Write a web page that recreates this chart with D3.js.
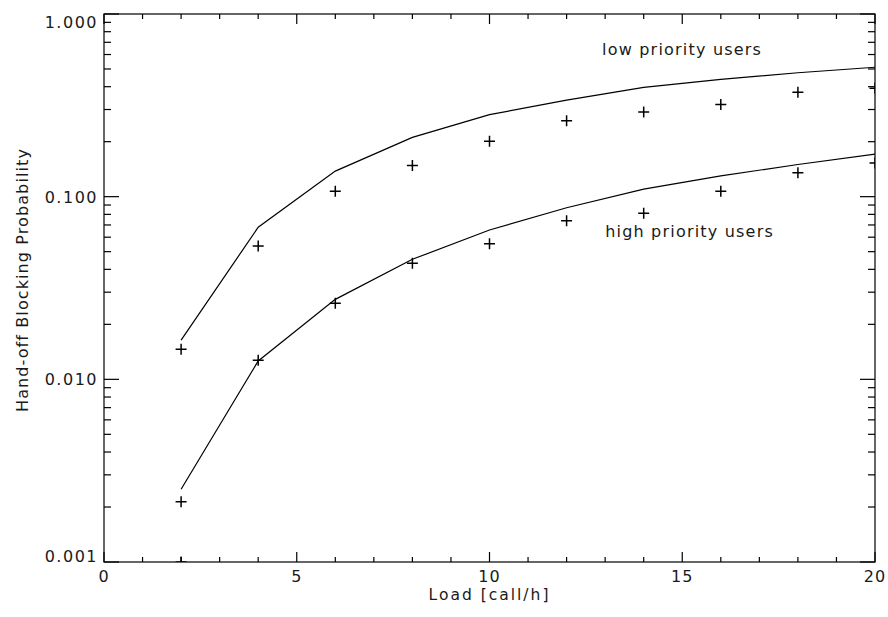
<!DOCTYPE html>
<html>
<head>
<meta charset="utf-8">
<script src="https://cdn.jsdelivr.net/npm/d3@7"></script>
<style>
  body { margin: 0; background: #fff; }
  svg text { font-family: "DejaVu Sans", sans-serif; fill: #1a1a1a; }
</style>
</head>
<body>
<div id="chart"></div>
<script>
// Hand-off blocking probability vs load
const loads = [2, 4, 6, 8, 10, 12, 14, 16, 18, 20];
const lowAnalytic  = [0.0164, 0.0680, 0.138, 0.211, 0.281, 0.338, 0.397, 0.439, 0.477, 0.511];
const lowSimulated = [0.0146, 0.0537, 0.107, 0.148, 0.201, 0.260, 0.291, 0.320, 0.373, 0.392];
const highAnalytic  = [0.00250, 0.0126, 0.0274, 0.0454, 0.0657, 0.0870, 0.110, 0.130, 0.150, 0.171];
const highSimulated = [0.00214, 0.0127, 0.0261, 0.0432, 0.0553, 0.0739, 0.0811, 0.107, 0.135, 0.153];
// a simulated point sitting on the lower limit of the axis
const floorPoints = [{ load: 2, p: 0.001 }];

const xTicks = [0, 5, 10, 15, 20];
const yTicks = [0.001, 0.01, 0.1, 1];
const yTickLabels = ["0.001", "0.010", "0.100", "1.000"];

const curveLabels = [
  { text: "low priority users", load: 12.92, p: 0.60 },
  { text: "high priority users", load: 13.0, p: 0.060 }
];

const margin = { top: 14, right: 13, bottom: 55, left: 104 };
const W = 888, H = 617;
const width = W - margin.left - margin.right;
const height = H - margin.top - margin.bottom;

const svg = d3.select("#chart").append("svg")
  .attr("width", W)
  .attr("height", H);

const g = svg.append("g")
  .attr("transform", `translate(${margin.left},${margin.top})`);

const x = d3.scaleLinear().domain([0, 20]).range([0, width]);
const y = d3.scaleLog().domain([0.001, 1]).range([height, 0]);

// clip region for the data
svg.append("defs").append("clipPath").attr("id", "plotClip")
  .append("rect").attr("width", width).attr("height", height);

// frame
g.append("rect")
  .attr("width", width)
  .attr("height", height)
  .attr("fill", "none")
  .attr("stroke", "#000")
  .attr("stroke-width", 1.2);

// x ticks on bottom and top, pointing inward
const xMinor = d3.range(0, 21, 1);
const xMajLen = 10, xMinLen = 5;
xMinor.forEach(v => {
  const len = v % 5 === 0 ? xMajLen : xMinLen;
  g.append("line").attr("x1", x(v)).attr("x2", x(v))
    .attr("y1", height).attr("y2", height - len)
    .attr("stroke", "#000").attr("stroke-width", 1.2);
  g.append("line").attr("x1", x(v)).attr("x2", x(v))
    .attr("y1", 0).attr("y2", len)
    .attr("stroke", "#000").attr("stroke-width", 1.2);
});

// y ticks on left and right (log minor ticks)
const yMajLen = 15, yMinLen = 7;
const yAll = [];
[0.001, 0.01, 0.1].forEach(dec => {
  for (let k = 1; k <= 9; k++) yAll.push({ v: dec * k, major: k === 1 });
});
yAll.push({ v: 1, major: true });
yAll.forEach(t => {
  const len = t.major ? yMajLen : yMinLen;
  const yy = y(t.v);
  g.append("line").attr("x1", 0).attr("x2", len)
    .attr("y1", yy).attr("y2", yy)
    .attr("stroke", "#000").attr("stroke-width", 1.2);
  g.append("line").attr("x1", width).attr("x2", width - len)
    .attr("y1", yy).attr("y2", yy)
    .attr("stroke", "#000").attr("stroke-width", 1.2);
});

// tick labels
g.selectAll(".xlab")
  .data(xTicks)
  .enter().append("text")
  .attr("class", "xlab")
  .attr("x", d => x(d))
  .attr("y", height + 20)
  .attr("text-anchor", "middle")
  .style("font-size", "16px")
  .style("letter-spacing", "1px")
  .text(d => d);

g.selectAll(".ylab")
  .data(yTicks)
  .enter().append("text")
  .attr("class", "ylab")
  .attr("x", -6)
  .attr("y", d => Math.min(Math.max(y(d), 8), height - 6) + 6)
  .attr("text-anchor", "end")
  .style("font-size", "16px")
  .style("letter-spacing", "1.5px")
  .text((d, i) => yTickLabels[i]);

// axis titles
g.append("text")
  .attr("x", x(10))
  .attr("y", height + 38)
  .attr("text-anchor", "middle")
  .style("font-size", "15.5px")
  .style("letter-spacing", "2px")
  .text("Load [call/h]");

svg.append("text")
  .attr("transform", `translate(28,${margin.top + 266}) rotate(-90)`)
  .attr("text-anchor", "middle")
  .style("font-size", "16px")
  .style("letter-spacing", "1.1px")
  .text("Hand-off Blocking Probability");

// data
const plot = g.append("g").attr("clip-path", "url(#plotClip)");

const line = d3.line()
  .x((d, i) => x(loads[i]))
  .y(d => y(d));

[lowAnalytic, highAnalytic].forEach(series => {
  plot.append("path")
    .datum(series)
    .attr("d", line)
    .attr("fill", "none")
    .attr("stroke", "#000")
    .attr("stroke-width", 1.2);
});

const plusPath = s => `M${-s},0H${s}M0,${-s}V${s}`;

const simPoints = [];
loads.forEach((l, i) => {
  simPoints.push({ load: l, p: lowSimulated[i] });
  simPoints.push({ load: l, p: highSimulated[i] });
});
floorPoints.forEach(d => simPoints.push(d));

plot.selectAll(".sim")
  .data(simPoints)
  .enter().append("path")
  .attr("class", "sim")
  .attr("transform", d => `translate(${x(d.load)},${y(d.p)})`)
  .attr("d", plusPath(5.5))
  .attr("fill", "none")
  .attr("stroke", "#000")
  .attr("stroke-width", 1.5);

// curve labels
g.selectAll(".clab")
  .data(curveLabels)
  .enter().append("text")
  .attr("class", "clab")
  .attr("x", d => x(d.load))
  .attr("y", d => y(d.p))
  .style("font-size", "16px")
  .style("letter-spacing", "1.2px")
  .text(d => d.text);
</script>
</body>
</html>
